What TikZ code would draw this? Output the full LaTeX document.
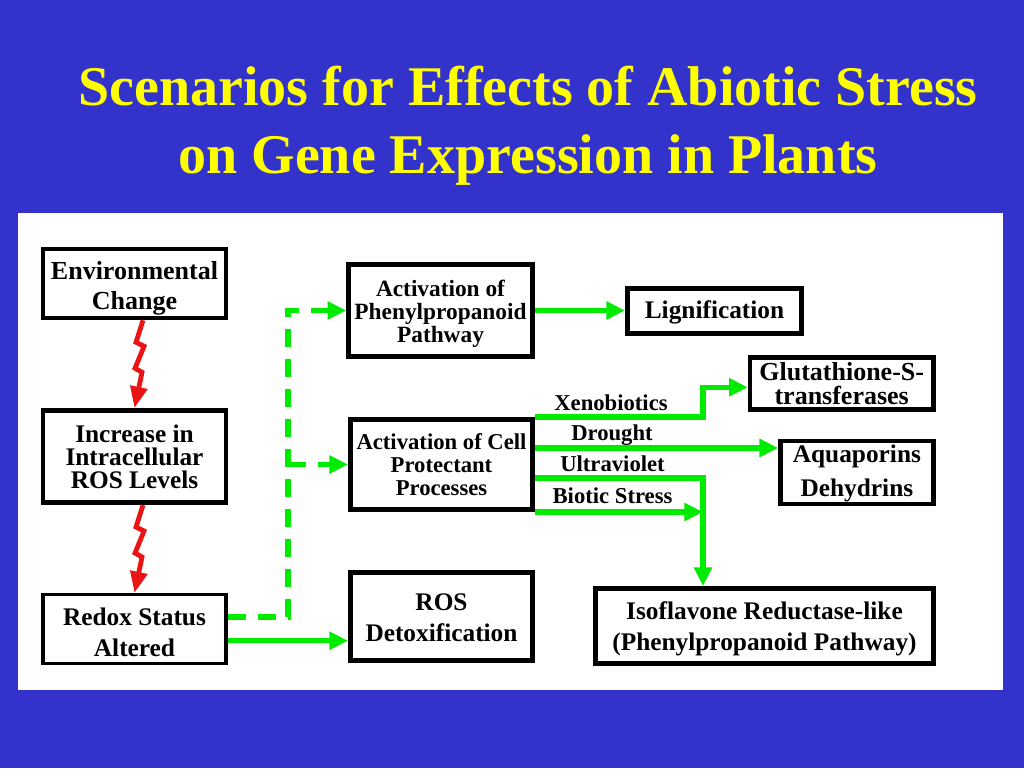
\documentclass[tikz,border=0pt]{standalone}
\usepackage{fontspec}
\setmainfont{Liberation Serif}
\usetikzlibrary{arrows.meta}
\definecolor{bgblue}{RGB}{51,51,204}
\definecolor{ttlyellow}{RGB}{255,255,0}
\definecolor{grn}{RGB}{0,235,0}
\definecolor{boltred}{RGB}{235,20,20}
\begin{document}
\begin{tikzpicture}[x=0.75pt,y=-0.75pt,
  box/.style={draw=black,fill=white,line width=3.4pt,inner sep=0pt},
  sz/.style 2 args={minimum width={#1*0.75pt},minimum height={#2*0.75pt}},
  fs/.style 2 args={font=\bfseries\fontsize{#1}{#2}\selectfont},
  txt/.style={align=center,inner sep=0pt},
  garrow/.style={draw=grn,line width=4pt,-{Triangle[width=13pt,length=14pt]}},
  gdash/.style={garrow,dash pattern=on 13.5pt off 9pt},
  bolt/.style={draw=boltred,line width=3.6pt,line join=miter,-{Triangle[width=12.5pt,length=16pt]}},
  lbl/.style={fs={17}{20},anchor=base,inner sep=0pt}
]
\fill[bgblue] (0,0) rectangle (1024,768);
\useasboundingbox (0,0) rectangle (1024,768);
\fill[white] (18,213) rectangle (1003,690);

\node[text=ttlyellow,fs={42}{51},align=center] (title) at (528,126)
  {Scenarios for Effects of Abiotic Stress\\on Gene Expression in Plants};

% boxes
\node[box,sz={183}{69}] (env) at (134.5,283.5) {};
\node[box,sz={183}{92.5}] (inc) at (134.5,456.5) {};
\node[box,sz={183}{69},line width=2.3pt] (redox) at (134.5,629) {};
\node[box,sz={184}{92}] (phen) at (440.5,310.5) {};
\node[box,sz={174.5}{45.5}] (lig) at (714.5,311) {};
\node[box,sz={182.5}{90.5}] (cell) at (441.5,464.5) {};
\node[box,sz={182.5}{88.5}] (detox) at (441.5,616.5) {};
\node[box,sz={183.5}{52}] (glut) at (841.7,383.3) {};
\node[box,sz={153}{63}] (aqua) at (856.9,472.7) {};
\node[box,sz={338.5}{75.5}] (iso) at (764.5,626) {};

% box texts
\node[txt,fs={19.5}{22.5}] (envt) at (134.5,288.5) {Environmental\\Change};
\node[txt,fs={19}{17.3}] (inct) at (134.5,456.5) {Increase in\\Intracellular\\ROS Levels};
\node[txt,fs={19}{23}] (redoxt) at (134.5,632) {Redox Status\\Altered};
\node[txt,fs={17.5}{17.2}] (phent) at (440.5,313.5) {Activation of\\Phenylpropanoid\\Pathway};
\node[txt,fs={19}{22}] (ligt) at (714.5,312) {Lignification};
\node[txt,fs={17}{17.5}] (cellt) at (441.5,464.5) {Activation of Cell\\Protectant\\Processes};
\node[txt,fs={19}{23}] (detoxt) at (441.5,617.5) {ROS\\Detoxification};
\node[txt,fs={19.5}{17.8}] (glutt) at (841.7,383.3) {Glutathione-S-\\transferases};
\node[txt,fs={19}{25.5}] (aquat) at (856.9,473) {Aquaporins\\Dehydrins};
\node[txt,fs={19}{23}] (isot) at (764.5,629) {Isoflavone Reductase-like\\(Phenylpropanoid Pathway)};

% lightning bolts
\draw[bolt] ([xshift=6.4pt]env.south) -- ++(-7,22) -- ++(8,4) -- ++(-9,22) -- ++(7,4) -- (inc.north);
\draw[bolt] ([xshift=6.4pt]inc.south) -- ++(-7,22) -- ++(8,4) -- ++(-9,22) -- ++(7,4) -- (redox.north);

% dashed green connectors
\coordinate (dv) at (288,0);
\draw[gdash] ([yshift=9pt]redox.east) -| (dv |- phen.west) -- (phen.west);
\draw[gdash] (dv |- cell.west) -- (cell.west);

% solid green connectors
\draw[garrow] ([yshift=-8.8pt]redox.east) -- ([yshift=-8.8pt]redox.east -| detox.west);
\draw[garrow] (phen.east) -- (phen.east -| lig.west);

\coordinate (vx) at (703,0);
\draw[garrow] (cell.north east) -- (vx |- cell.north east) -- ([yshift=-3pt]vx |- glut.west) -- ([yshift=-3pt]glut.west);
\draw[garrow] ([yshift=12.4pt]cell.east) -- ([yshift=12.4pt]cell.east -| aqua.west);
\draw[garrow] ([yshift=-10.1pt]cell.east) -| (vx |- iso.north);
\draw[garrow] (cell.south east) -- (vx |- cell.south east);

% labels
\node[lbl] (lx) at (611,410.5) {Xenobiotics};
\node[lbl] (ld) at (612,440) {Drought};
\node[lbl] (lu) at (612.5,471.7) {Ultraviolet};
\node[lbl] (lb) at (612.5,503.3) {Biotic Stress};
\end{tikzpicture}
\end{document}
